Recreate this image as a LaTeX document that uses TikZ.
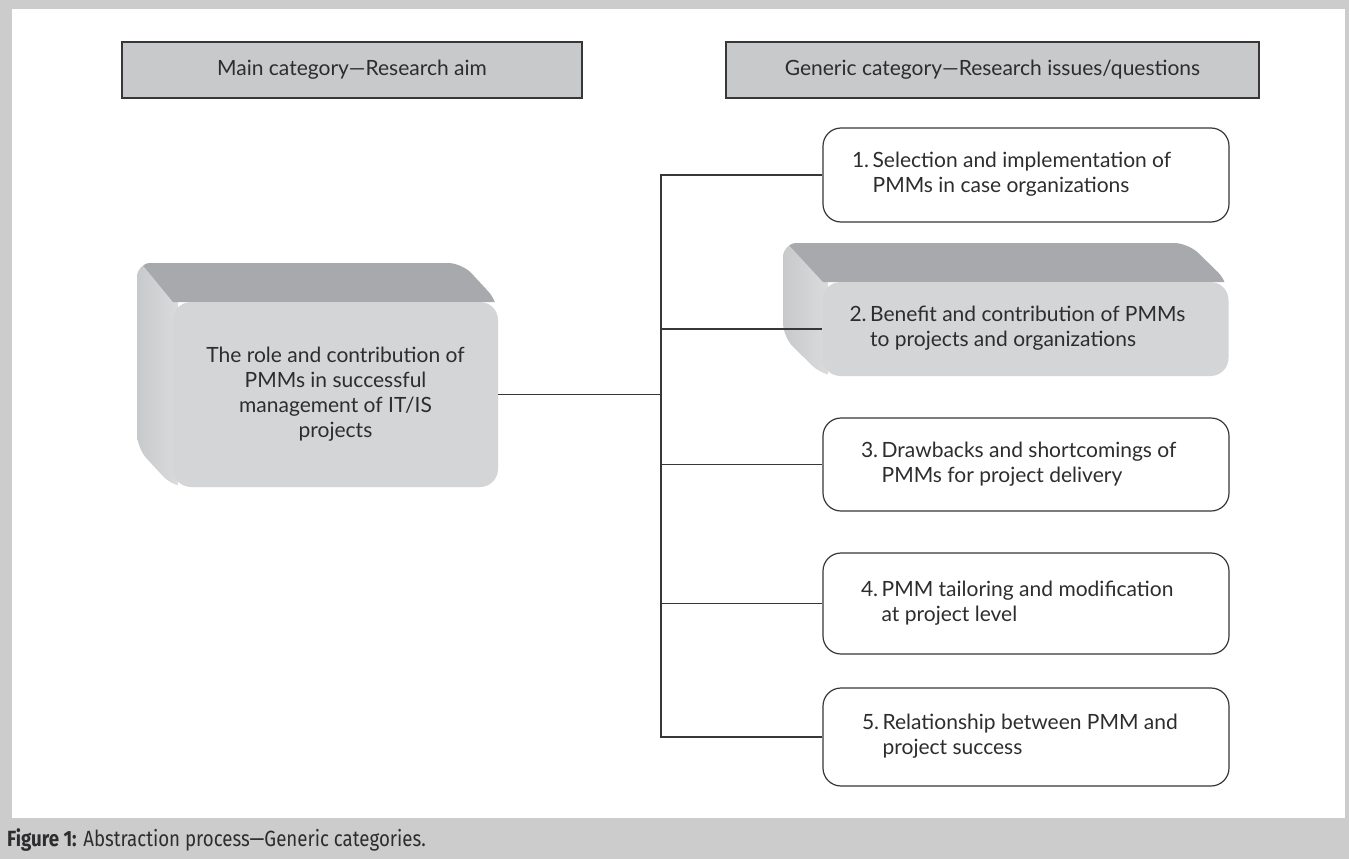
\documentclass[tikz,border=0pt]{standalone}
\usepackage{fontspec}
\setmainfont{Lato}
\newfontfamily\capfont[FakeStretch=0.85]{Fira Sans}
\definecolor{frame}{RGB}{204,204,204}
\definecolor{hdr}{RGB}{200,201,203}
\definecolor{ink}{RGB}{45,45,48}
\definecolor{lineC}{RGB}{55,55,58}
\definecolor{frontf}{RGB}{212,213,215}
\definecolor{topf}{RGB}{168,169,173}
\definecolor{sidef}{RGB}{218,219,221}
\definecolor{sidelight}{RGB}{230,231,233}
\definecolor{sidedark}{RGB}{200,201,203}
\newcommand\threedbox[6]{%
  \begin{scope}
    \clip[rounded corners=14] (#1-#5,#2-#6) -- (#3-#5,#2-#6) -- (#3,#2) -- (#3,#4) -- (#1,#4) -- (#1-#5,#4-#6) -- cycle;
    \shade[left color=sidedark, middle color=sidelight, right color=sidef] (#1-#5,#2-#6) rectangle (#1+5,#4);
    \fill[topf] (#1-#5+4,#2-#6) -- (#3-#5+20,#2-#6) -- (#3,#2) -- (#1,#2) -- cycle;
  \end{scope}}
\newcommand\qtext[3]{\makebox[406pt][l]{\hspace*{#1pt}\raisebox{3pt}{\begin{tabular}{@{}l@{\,}l@{}}#2\end{tabular}}}}
\begin{document}
\begin{tikzpicture}[x=1pt,y=-1pt,
  txt/.style={text=ink,font=\fontsize{21}{25}\selectfont},
  hdrbox/.style={txt,draw=lineC,line width=1.2pt,fill=hdr,minimum height=56pt,inner sep=0pt},
  qbox/.style={txt,draw=lineC,line width=1.2pt,fill=white,rounded corners=18pt,minimum width=406pt,inner sep=0pt},
  solidbox/.style={txt,fill=frontf,rounded corners=18pt,inner sep=0pt},
  conn/.style={draw=lineC,line width=1.2pt}]
\useasboundingbox (0,0) rectangle (1349,859);
\fill[frame] (0,0) rectangle (1349,859);
\fill[white] (12,9) rectangle (1345,818);

% headers
\node[hdrbox,minimum width=460pt] (h1) at (352,70) {Main category—Research aim};
\node[hdrbox,minimum width=533pt] (h2) at (992.5,70) {Generic category—Research issues/questions};

% main 3D box
\threedbox{173}{302}{498}{487}{36}{39}
\node[solidbox,minimum width=325pt,minimum height=185pt] (main) at (335.5,394.5)
  {\raisebox{-5pt}{\begin{tabular}{@{}c@{}}The role and contribution of\\PMMs in successful\\management of IT/IS\\projects\end{tabular}}};

% box 2 3D
\threedbox{823}{282}{1228}{376}{40}{39}
\node[solidbox,minimum width=405pt,minimum height=94pt] (b2) at (1025.5,329)
  {\qtext{27}{2. & Benefit and contribution of PMMs\\ & to projects and organizations}{}};

\node[qbox,minimum height=94pt] (b1) at (1026,175)
  {\qtext{29}{1. & Selection and implementation of\\ & PMMs in case organizations}{}};
\node[qbox,minimum height=93pt] (b3) at (1026,464.5)
  {\qtext{38}{3. & Drawbacks and shortcomings of\\ & PMMs for project delivery}{}};
\node[qbox,minimum height=101pt] (b4) at (1026,603.5)
  {\qtext{38}{4. & PMM tailoring and modification\\ & at project level}{}};
\node[qbox,minimum height=98pt] (b5) at (1026,737)
  {\qtext{39}{5. & Relationship between PMM and\\ & project success}{}};

% connectors
\coordinate (s1) at (661,175);
\draw[conn] (b1.west) -- (s1) -- (s1 |- b5.west) -- (b5.west);
\draw[conn] (main.east) -- (main.east -| s1);
\draw[conn] (b2.west -| s1) -- (b2.west);
\draw[conn] (b3.west -| s1) -- (b3.west);
\draw[conn] (b4.west -| s1) -- (b4.west);

% caption
\node[anchor=west,text=ink,inner sep=0pt] (cap) at (7,840)
  {\capfont\fontsize{22}{26}\selectfont\textbf{Figure 1:} Abstraction process—Generic categories.};
\end{tikzpicture}
\end{document}
